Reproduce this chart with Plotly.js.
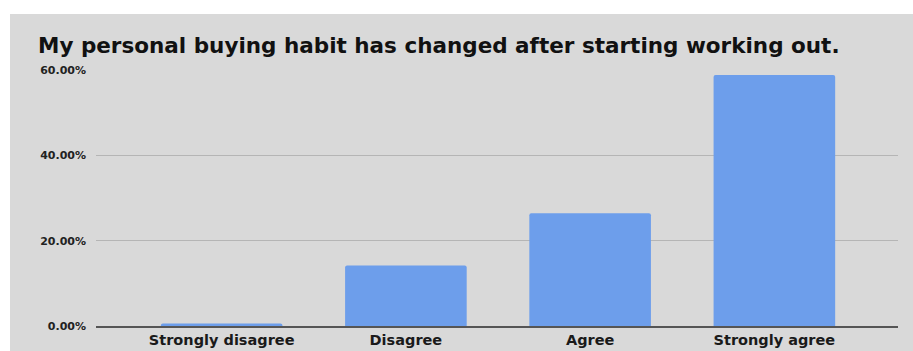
<!DOCTYPE html>
<html>
<head>
<meta charset="utf-8">
<script src="https://cdn.plot.ly/plotly-3.0.1.min.js"></script>
<style>
html,body{margin:0;padding:0;background:#ffffff;width:913px;height:351px;overflow:hidden;}
#chart{position:absolute;left:10px;top:14px;width:903px;height:337px;}
</style>
</head>
<body>
<div id="chart"></div>
<script>
const titleText = "My personal buying habit has changed after starting working out.";
const categories = ["Strongly disagree", "Disagree", "Agree", "Strongly agree"];
const shares = [0.006, 0.142, 0.264, 0.588];
const yTicks = [0, 0.2, 0.4, 0.6];

const trace = {
  type: "bar",
  x: categories,
  y: shares,
  marker: {color: "#6d9eeb", cornerradius: 2},
  hoverinfo: "x+y"
};

const layout = {
  width: 903,
  height: 337,
  margin: {l: 86, r: 15, t: 56, b: 25},
  paper_bgcolor: "#d9d9d9",
  plot_bgcolor: "#d9d9d9",
  bargap: 0.34,
  showlegend: false,
  title: {
    text: titleText,
    xref: "container", x: 28/903, xanchor: "left",
    yref: "container", y: 1 - 31/337, yanchor: "middle",
    font: {family: "DejaVu Sans", size: 21.5, color: "#111111", weight: "bold"}
  },
  xaxis: {
    type: "category",
    range: [-0.682, 3.671],
    showgrid: false,
    zeroline: false,
    showline: true,
    linecolor: "#555555",
    linewidth: 1.5,
    ticks: "",
    tickfont: {family: "DejaVu Sans", size: 14.5, color: "#1a1a1a", weight: "bold"},
    fixedrange: true
  },
  yaxis: {
    range: [0, 0.6],
    tickvals: yTicks,
    tickformat: ".2%",
    showgrid: true,
    gridcolor: "#b5b5b5",
    gridwidth: 1,
    zeroline: false,
    showline: false,
    ticks: "",
    ticklabelstandoff: 9,
    tickfont: {family: "DejaVu Sans", size: 11, color: "#222222", weight: "bold"},
    fixedrange: true
  }
};

Plotly.newPlot("chart", [trace], layout, {displayModeBar: false, staticPlot: true});
</script>
</body>
</html>
